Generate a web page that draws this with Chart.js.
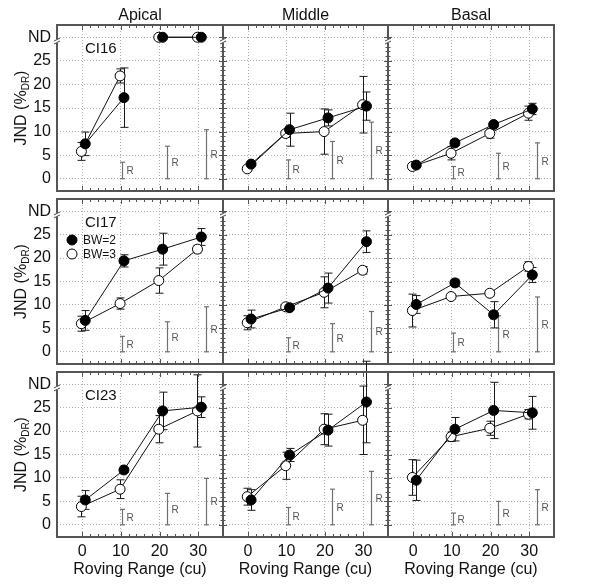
<!DOCTYPE html>
<html lang="en">
<head>
<meta charset="utf-8">
<title>JND vs roving range</title>
<script src="https://cdn.jsdelivr.net/npm/chart.js"></script>
<style>
  body { margin: 0; background: #fff; }
  #wrap { position: relative; width: 600px; height: 586px; background: #fff; }
  #wrap canvas { position: absolute; left: 0; top: 0; }
</style>
</head>
<body>
<div id="wrap"></div>
<script>
const rovingRange = [0, 10, 20, 30];
const yTickValues = [0, 5, 10, 15, 20, 25, 30]; // 30 is the ND row
const regions = ['Apical', 'Middle', 'Basal'];
const subjects = ['CI16', 'CI17', 'CI23'];

// CI16
const ci16ApicalBw2 = [7.4, 17.2, 'ND', 'ND'];
const ci16ApicalErr2 = [2.5, 6.3, 0, 0];
const ci16ApicalBw3 = [5.8, 21.8, 'ND', 'ND'];
const ci16ApicalErr3 = [1.9, 1.5, 0, 0];
const ci16ApicalRange = [3.5, 6.9, 10.4];

const ci16MiddleBw2 = [3.1, 10.4, 12.9, 15.4];
const ci16MiddleErr2 = [0.4, 3.5, 1.7, 3.0];
const ci16MiddleBw3 = [2.1, 9.6, 10.0, 15.7];
const ci16MiddleErr3 = [0.3, 0.8, 4.8, 6.0];
const ci16MiddleRange = [4.0, 7.9, 12.0];

const ci16BasalBw2 = [2.9, 7.6, 11.5, 14.8];
const ci16BasalErr2 = [0.4, 0.5, 0.5, 1.2];
const ci16BasalBw3 = [2.6, 5.4, 9.6, 13.9];
const ci16BasalErr3 = [0.6, 1.4, 1.0, 1.5];
const ci16BasalRange = [2.6, 5.4, 7.6];

// CI17
const ci17ApicalBw2 = [6.7, 19.4, 21.9, 24.5];
const ci17ApicalErr2 = [2.1, 1.3, 3.4, 1.8];
const ci17ApicalBw3 = [6.0, 10.3, 15.2, 21.9];
const ci17ApicalErr3 = [1.6, 1.2, 2.7, 0.8];
const ci17ApicalRange = [3.3, 6.4, 9.6];

const ci17MiddleBw2 = [7.0, 9.4, 13.6, 23.5];
const ci17MiddleErr2 = [1.9, 0.4, 3.2, 2.3];
const ci17MiddleBw3 = [6.2, 9.6, 12.7, 17.4];
const ci17MiddleErr3 = [1.5, 0.4, 3.3, 0.8];
const ci17MiddleRange = [3.0, 6.0, 8.6];

const ci17BasalBw2 = [10.1, 14.7, 7.9, 16.4];
const ci17BasalErr2 = [1.9, 0.8, 2.8, 1.6];
const ci17BasalBw3 = [8.8, 11.8, 12.5, 18.2];
const ci17BasalErr3 = [3.5, 0.5, 0.6, 1.0];
const ci17BasalRange = [4.0, 7.7, 11.7];

// CI23
const ci23ApicalBw2 = [5.3, 11.7, 24.3, 25.1];
const ci23ApicalErr2 = [2.0, 0.4, 4.0, 2.2];
const ci23ApicalBw3 = [3.9, 7.6, 20.4, 24.3];
const ci23ApicalErr3 = [2.2, 2.0, 2.9, 7.7];
const ci23ApicalRange = [3.3, 6.7, 9.9];

const ci23MiddleBw2 = [5.3, 14.9, 20.2, 26.2];
const ci23MiddleErr2 = [2.2, 1.4, 3.4, 8.7];
const ci23MiddleBw3 = [6.0, 12.6, 20.4, 22.3];
const ci23MiddleErr3 = [1.8, 2.9, 3.3, 7.3];
const ci23MiddleRange = [3.7, 7.6, 11.4];

const ci23BasalBw2 = [9.5, 20.4, 24.4, 23.9];
const ci23BasalErr2 = [4.3, 2.5, 6.0, 3.5];
const ci23BasalBw3 = [10.1, 18.8, 20.6, 23.6];
const ci23BasalErr3 = [3.8, 1.0, 1.5, 1.0];
const ci23BasalRange = [2.5, 5.0, 7.5];

const panels = [
  {row: 0, col: 0, bw2: ci16ApicalBw2, err2: ci16ApicalErr2, bw3: ci16ApicalBw3, err3: ci16ApicalErr3, range: ci16ApicalRange},
  {row: 0, col: 1, bw2: ci16MiddleBw2, err2: ci16MiddleErr2, bw3: ci16MiddleBw3, err3: ci16MiddleErr3, range: ci16MiddleRange},
  {row: 0, col: 2, bw2: ci16BasalBw2, err2: ci16BasalErr2, bw3: ci16BasalBw3, err3: ci16BasalErr3, range: ci16BasalRange},
  {row: 1, col: 0, bw2: ci17ApicalBw2, err2: ci17ApicalErr2, bw3: ci17ApicalBw3, err3: ci17ApicalErr3, range: ci17ApicalRange},
  {row: 1, col: 1, bw2: ci17MiddleBw2, err2: ci17MiddleErr2, bw3: ci17MiddleBw3, err3: ci17MiddleErr3, range: ci17MiddleRange},
  {row: 1, col: 2, bw2: ci17BasalBw2, err2: ci17BasalErr2, bw3: ci17BasalBw3, err3: ci17BasalErr3, range: ci17BasalRange},
  {row: 2, col: 0, bw2: ci23ApicalBw2, err2: ci23ApicalErr2, bw3: ci23ApicalBw3, err3: ci23ApicalErr3, range: ci23ApicalRange},
  {row: 2, col: 1, bw2: ci23MiddleBw2, err2: ci23MiddleErr2, bw3: ci23MiddleBw3, err3: ci23MiddleErr3, range: ci23MiddleRange},
  {row: 2, col: 2, bw2: ci23BasalBw2, err2: ci23BasalErr2, bw3: ci23BasalBw3, err3: ci23BasalErr3, range: ci23BasalRange}
];

// layout
const W = 600, H = 586;
const colEdges = [57, 223, 388, 554];
const rowEdges = [[25, 191], [199, 364], [372, 537]];
const ND_VALUE = 30;
const OFF2 = 0.8, OFF3 = -0.2;       // small horizontal jitter of the two series
const rangeBarX = [10.3, 21.8, 31.9];
const FONT = '"Liberation Sans", Arial, Helvetica, sans-serif';
const MARK_R = 5;

Chart.defaults.font.family = FONT;
Chart.defaults.color = '#111';

const isND = v => v === 'ND';

function line(ctx, x1, y1, x2, y2) {
  ctx.beginPath();
  ctx.moveTo(x1, y1);
  ctx.lineTo(x2, y2);
  ctx.stroke();
}
const crisp = v => Math.round(v) + 0.5;

const deco = {
  id: 'deco',
  beforeDatasetsDraw(chart, args, o) {
    const {ctx} = chart;
    const {x, y} = chart.scales;
    ctx.save();
    // R bars
    ctx.strokeStyle = '#707070';
    ctx.fillStyle = '#555';
    ctx.lineWidth = 1.2;
    ctx.font = '10px ' + FONT;
    ctx.textBaseline = 'middle';
    ctx.textAlign = 'left';
    o.range.forEach((h, i) => {
      const px = crisp(x.getPixelForValue(rangeBarX[i]));
      const y0 = y.getPixelForValue(0), y1 = y.getPixelForValue(h);
      line(ctx, px, y0, px, y1);
      line(ctx, px - 2.5, y0, px + 2.5, y0);
      line(ctx, px - 2.5, y1, px + 2.5, y1);
      ctx.fillText('R', px + 4, (y0 + y1) / 2 + 1);
    });
    // error bars
    ctx.strokeStyle = '#1a1a1a';
    ctx.lineWidth = 1;
    [[o.bw2, o.err2, OFF2], [o.bw3, o.err3, OFF3]].forEach(([vals, errs, off]) => {
      vals.forEach((v, i) => {
        if (isND(v) || !errs[i]) return;
        const px = crisp(x.getPixelForValue(rovingRange[i] + off));
        const ya = y.getPixelForValue(v - errs[i]);
        const yb = y.getPixelForValue(v + errs[i]);
        line(ctx, px, ya, px, yb);
        line(ctx, px - 4, ya, px + 4, ya);
        line(ctx, px - 4, yb, px + 4, yb);
      });
    });
    ctx.restore();
  },
  afterDraw(chart, args, o) {
    const {ctx} = chart;
    const {x, y} = chart.scales;
    const {left, right, top, bottom} = chart.chartArea;
    ctx.save();
    // frame
    ctx.strokeStyle = '#555';
    ctx.lineWidth = 2;
    ctx.strokeRect(left, top, right - left, bottom - top);
    // x ticks on top and bottom edges, pointing in
    ctx.lineWidth = 1;
    for (let v = 0; v <= 30; v += 2) {
      const px = crisp(x.getPixelForValue(v));
      const len = v % 10 === 0 ? 5 : 3;
      line(ctx, px, top, px, top + len);
      line(ctx, px, bottom, px, bottom - len);
    }
    // y ticks on shared edges
    if (o.col > 0) {
      for (let v = 0; v <= 30; v++) {
        if (v === 29) continue;
        const py = crisp(y.getPixelForValue(v));
        const len = v % 5 === 0 ? 4 : 2.5;
        line(ctx, left - len, py, left + len, py);
      }
    }
    // axis break below ND
    const by = y.getPixelForValue(29.2);
    ctx.fillStyle = '#fff';
    ctx.fillRect(left - 2, by - 2, 4, 4);
    ctx.strokeStyle = '#444';
    line(ctx, left - 3, by, left + 3, by - 3);
    line(ctx, left - 3, by + 3, left + 3, by);

    ctx.fillStyle = '#111';
    ctx.textBaseline = 'alphabetic';
    // column title
    if (o.row === 0) {
      ctx.font = '16px ' + FONT;
      ctx.textAlign = 'center';
      ctx.fillText(regions[o.col], (left + right) / 2, top - 5);
    }
    // subject label
    if (o.col === 0) {
      ctx.font = '15px ' + FONT;
      ctx.textAlign = 'left';
      ctx.fillText(subjects[o.row], left + 28, top + 28);
    }
    // legend
    if (o.row === 1 && o.col === 0) {
      ctx.font = '12px ' + FONT;
      ctx.textBaseline = 'middle';
      [['BW=2', '#000', 240], ['BW=3', '#fff', 254]].forEach(([t, fill, ly]) => {
        ctx.beginPath();
        ctx.arc(left + 15, ly, MARK_R, 0, Math.PI * 2);
        ctx.fillStyle = fill;
        ctx.fill();
        ctx.strokeStyle = '#000';
        ctx.stroke();
        ctx.fillStyle = '#111';
        ctx.fillText(t, left + 26, ly + 1);
      });
    }
    // y title with subscript
    if (o.col === 0) {
      const big = '16px ' + FONT, small = '10px ' + FONT;
      const a = 'JND (%', s = 'DR', b = ')';
      ctx.font = big; const wa = ctx.measureText(a).width, wb = ctx.measureText(b).width;
      ctx.font = small; const ws = ctx.measureText(s).width;
      const total = wa + ws + wb;
      ctx.translate(26, (top + bottom) / 2);
      ctx.rotate(-Math.PI / 2);
      ctx.textAlign = 'left';
      ctx.textBaseline = 'alphabetic';
      let cx = -total / 2;
      ctx.font = big; ctx.fillText(a, cx, 0); cx += wa;
      ctx.font = small; ctx.fillText(s, cx, 3); cx += ws;
      ctx.font = big; ctx.fillText(b, cx, 0);
    }
    ctx.restore();
  }
};

function series(label, vals, off, fill) {
  return {
    label,
    data: vals.map((v, i) => ({x: rovingRange[i] + off, y: isND(v) ? ND_VALUE : v})),
    borderColor: '#111',
    borderWidth: 1,
    tension: 0,
    pointRadius: MARK_R,
    pointBorderWidth: 1,
    pointBorderColor: '#000',
    pointBackgroundColor: fill,
    segment: {
      borderColor: ctx => isND(vals[ctx.p0DataIndex]) !== isND(vals[ctx.p1DataIndex]) ? 'rgba(0,0,0,0)' : undefined
    }
  };
}

const wrap = document.getElementById('wrap');

panels.forEach(p => {
  const canvas = document.createElement('canvas');
  canvas.width = W;
  canvas.height = H;
  wrap.appendChild(canvas);
  const x0 = colEdges[p.col], x1 = colEdges[p.col + 1];
  const [y0, y1] = rowEdges[p.row];
  const first = p.col === 0, last = p.row === 2;
  new Chart(canvas, {
    type: 'line',
    data: {datasets: [series('BW=2', p.bw2, OFF2, '#000'), series('BW=3', p.bw3, OFF3, '#fff')]},
    options: {
      responsive: false,
      animation: false,
      events: [],
      layout: {
        autoPadding: false,
        padding: {left: first ? 0 : x0, top: y0, right: W - x1, bottom: last ? 0 : H - y1}
      },
      scales: {
        x: {
          type: 'linear', min: -6.5, max: 36.4,
          afterBuildTicks: s => { s.ticks = rovingRange.map(v => ({value: v})); },
          afterFit: s => { s.height = last ? H - y1 : 0; },
          ticks: {display: last, font: {size: 16}, color: '#111', padding: 5},
          title: {display: last, text: 'Roving Range (cu)', font: {size: 16}, color: '#111', padding: {top: 0, bottom: 7}},
          grid: {color: '#b0b0b0', lineWidth: 1, drawTicks: false},
          border: {display: false, dash: [1, 2]}
        },
        y: {
          type: 'linear', min: -2.6, max: 32.6,
          afterBuildTicks: s => { s.ticks = yTickValues.map(v => ({value: v})); },
          afterFit: s => { s.width = first ? x0 : 0; },
          ticks: {display: first, font: {size: 16}, color: '#111', padding: 6,
                  callback: v => v === ND_VALUE ? 'ND' : v},
          grid: {color: '#b0b0b0', lineWidth: 1, drawTicks: false},
          border: {display: false, dash: [1, 2]}
        }
      },
      plugins: {
        legend: {display: false},
        tooltip: {enabled: false},
        deco: p
      }
    },
    plugins: [deco]
  });
});
</script>
</body>
</html>
